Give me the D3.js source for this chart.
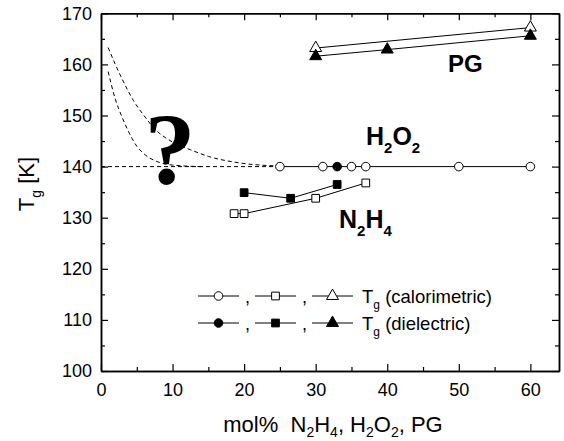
<!DOCTYPE html>
<html>
<head>
<meta charset="UTF-8">
<title>Tg vs mol%</title>
<script src="https://d3js.org/d3.v7.min.js"></script>
<style>
  body { margin: 0; background: #fff; }
  svg { font-family: "Liberation Sans", Arial, sans-serif; }
</style>
</head>
<body>
<div id="chart"></div>
<script>
// data
const h2o2CalX = [25, 31, 35, 37, 50, 60];
const h2o2CalY = [140, 140, 140, 140, 140, 140];
const h2o2DielX = [33];
const h2o2DielY = [140];
const n2h4CalX = [18.6, 20, 30, 37];
const n2h4CalY = [130.8, 130.8, 133.8, 136.8];
const n2h4DielX = [20, 26.5, 33];
const n2h4DielY = [134.9, 133.8, 136.5];
const pgCalX = [30, 60];
const pgCalY = [163.2, 167.2];
const pgDielX = [30, 40, 60];
const pgDielY = [161.6, 162.9, 165.6];
// dashed guide lines
const guideFlatX = [0, 25];
const guideFlatY = [140, 140];
const guideUpX = [1, 2, 3, 4.5, 6, 7.5, 10, 12.5, 15, 19, 25];
const guideUpY = [163.3, 160, 157, 153, 150, 147.4, 144.8, 143.3, 142, 140.8, 140.1];
const guideLowX = [1, 2, 3, 4, 5, 6, 8, 10, 14];
const guideLowY = [158.6, 153.2, 149.5, 146.4, 144, 142.5, 140.9, 140.3, 140];
const xTicks = [0, 10, 20, 30, 40, 50, 60];
const yTicks = [100, 110, 120, 130, 140, 150, 160, 170];

const W = 564, H = 441;
const svg = d3.select("#chart").append("svg").attr("width", W).attr("height", H);

const x = d3.scaleLinear().domain([0, 64]).range([101, 559]);
const y = d3.scaleLinear().domain([100, 170]).range([371, 13.3]);

const zip = (xs, ys) => xs.map((v, i) => [v, ys[i]]);

// axes: major and minor ticks point inward
const xMinor = d3.range(5, 64, 10);
const yMinor = d3.range(105, 170, 10);

function axisGroup(axis, transform) {
  const g = svg.append("g").attr("transform", transform).call(axis);
  g.select(".domain").attr("stroke-width", 1.5);
  g.selectAll(".tick line").attr("stroke-width", 1.2);
  return g;
}

const gb = axisGroup(d3.axisBottom(x).tickValues(xTicks).tickSize(-7).tickPadding(12).tickSizeOuter(0), `translate(0,${y(100)})`);
gb.selectAll("text").attr("font-size", 18).attr("fill", "#000").attr("font-family", "Liberation Sans, Arial, sans-serif");
axisGroup(d3.axisBottom(x).tickValues(xMinor).tickSize(-4).tickFormat("").tickSizeOuter(0), `translate(0,${y(100)})`);
axisGroup(d3.axisTop(x).tickValues(xTicks).tickSize(-7).tickFormat("").tickSizeOuter(0), `translate(0,${y(170)})`);
axisGroup(d3.axisTop(x).tickValues(xMinor).tickSize(-4).tickFormat("").tickSizeOuter(0), `translate(0,${y(170)})`);

const gl = axisGroup(d3.axisLeft(y).tickValues(yTicks).tickSize(-7).tickPadding(9).tickSizeOuter(0), `translate(${x(0)},0)`);
gl.selectAll("text").attr("font-size", 18).attr("fill", "#000").attr("font-family", "Liberation Sans, Arial, sans-serif");
axisGroup(d3.axisLeft(y).tickValues(yMinor).tickSize(-4).tickFormat("").tickSizeOuter(0), `translate(${x(0)},0)`);
axisGroup(d3.axisRight(y).tickValues(yTicks).tickSize(-7).tickFormat("").tickSizeOuter(0), `translate(${x(64)},0)`);
axisGroup(d3.axisRight(y).tickValues(yMinor).tickSize(-4).tickFormat("").tickSizeOuter(0), `translate(${x(64)},0)`);

const line = d3.line().x(d => x(d[0])).y(d => y(d[1]));
const curve = d3.line().x(d => x(d[0])).y(d => y(d[1])).curve(d3.curveMonotoneX);

// dashed guides
[[guideFlatX, guideFlatY], [guideUpX, guideUpY], [guideLowX, guideLowY]].forEach(([xs, ys]) => {
  svg.append("path").datum(zip(xs, ys)).attr("d", curve)
    .attr("fill", "none").attr("stroke", "#000").attr("stroke-width", 1).attr("stroke-dasharray", "4,3");
});

// solid connecting lines
[[h2o2CalX, h2o2CalY], [n2h4CalX, n2h4CalY], [n2h4DielX, n2h4DielY], [pgCalX, pgCalY], [pgDielX, pgDielY]].forEach(([xs, ys]) => {
  svg.append("path").datum(zip(xs, ys)).attr("d", line)
    .attr("fill", "none").attr("stroke", "#000").attr("stroke-width", 1);
});

// marker shapes
const shapes = {
  circle: d3.symbol().type(d3.symbolCircle).size(58),
  square: d3.symbol().type(d3.symbolSquare).size(60),
  triangle: d3.symbol().type(d3.symbolTriangle).size(62)
};

function markers(xs, ys, shape, filled) {
  svg.append("g").selectAll("path").data(zip(xs, ys)).join("path")
    .attr("d", shapes[shape])
    .attr("transform", d => `translate(${x(d[0])},${y(d[1])})`)
    .attr("fill", filled ? "#000" : "#fff")
    .attr("stroke", "#000").attr("stroke-width", 1);
}

markers(h2o2CalX, h2o2CalY, "circle", false);
markers(h2o2DielX, h2o2DielY, "circle", true);
markers(n2h4CalX, n2h4CalY, "square", false);
markers(n2h4DielX, n2h4DielY, "square", true);
markers(pgCalX, pgCalY, "triangle", false);
markers(pgDielX, pgDielY, "triangle", true);

// big question mark
svg.append("text").attr("x", 170).attr("y", 184)
  .attr("text-anchor", "middle").attr("font-family", "Liberation Serif, Times New Roman, serif")
  .attr("font-weight", "bold").attr("font-size", 102).text("?");

// text with subscripts: parts = [[string, isSub], ...]
function richText(t, parts, size, subSize, shift) {
  let off = 0;
  parts.forEach(([s, sub]) => {
    const target = sub ? shift : 0;
    t.append("tspan").attr("font-size", sub ? subSize : size)
      .attr("dy", target - off).text(s);
    off = target;
  });
  return t;
}

svg.append("text").attr("x", 448).attr("y", 72).attr("font-size", 24).attr("font-weight", "bold").text("PG");
richText(svg.append("text").attr("x", 366).attr("y", 145).attr("font-weight", "bold"),
  [["H"], ["2", 1], ["O"], ["2", 1]], 25, 15, 8);
richText(svg.append("text").attr("x", 339).attr("y", 228).attr("font-weight", "bold"),
  [["N"], ["2", 1], ["H"], ["4", 1]], 25, 15, 8);

// legend
const legRows = [
  { y: 296, filled: false, label: "(calorimetric)" },
  { y: 323, filled: true, label: "(dielectric)" }
];
const legItems = [
  { x0: 198, x1: 239, shape: "circle" },
  { x0: 255, x1: 296, shape: "square" },
  { x0: 312, x1: 353, shape: "triangle" }
];
legRows.forEach(r => {
  legItems.forEach((it, i) => {
    svg.append("line").attr("x1", it.x0).attr("x2", it.x1).attr("y1", r.y).attr("y2", r.y)
      .attr("stroke", "#000").attr("stroke-width", 1);
    svg.append("path").attr("d", shapes[it.shape])
      .attr("transform", `translate(${(it.x0 + it.x1) / 2},${r.y})`)
      .attr("fill", r.filled ? "#000" : "#fff").attr("stroke", "#000");
    if (i < 2) svg.append("text").attr("x", it.x1 + 6).attr("y", r.y + 7).attr("font-size", 18).text(",");
  });
  richText(svg.append("text").attr("x", 362).attr("y", r.y + 7),
    [["T"], ["g", 1], [" " + r.label]], 18.5, 12, 6);
});

// axis titles
richText(svg.append("text").attr("transform", "translate(34,184) rotate(-90)").attr("text-anchor", "middle"),
  [["T"], ["g", 1], [" [K]"]], 22, 14, 7);

richText(svg.append("text").attr("x", 333).attr("y", 432).attr("text-anchor", "middle"),
  [["mol%\u00a0\u00a0N"], ["2", 1], ["H"], ["4", 1], [", H"], ["2", 1], ["O"], ["2", 1], [", PG"]], 22, 14, 5);
</script>
</body>
</html>
